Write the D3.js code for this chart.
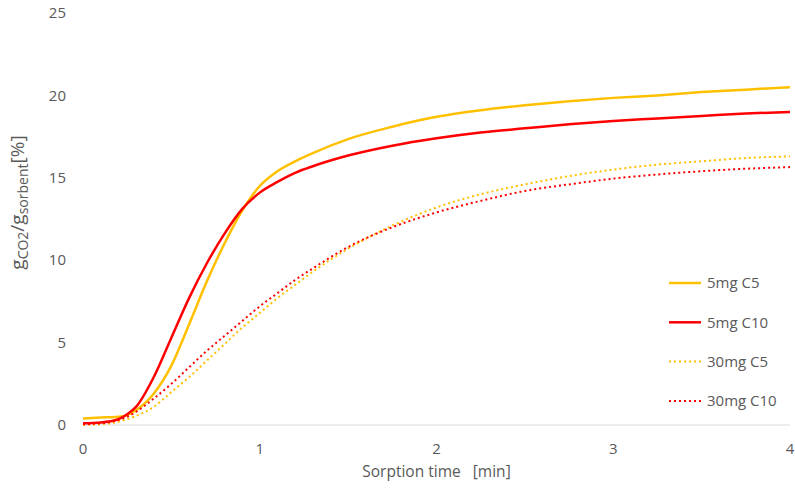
<!DOCTYPE html>
<html>
<head>
<meta charset="utf-8">
<script src="https://cdn.jsdelivr.net/npm/d3@7"></script>
<style>
  body { margin: 0; background: #fff; }
  text { font-family: "Open Sans", "Noto Sans", sans-serif; fill: #595959; }
</style>
</head>
<body>
<div id="chart"></div>
<script>
// Sorption time in minutes
const times = [0, 0.1, 0.2, 0.25, 0.3, 0.4, 0.5, 0.6, 0.7, 0.8, 0.9, 1.0, 1.1, 1.2, 1.3,
  1.5, 1.75, 2, 2.25, 2.5, 2.75, 3, 3.25, 3.5, 3.75, 4];
// Uptake g_CO2/g_sorbent [%] for each sample
const mg5C5 = [0.4, 0.45, 0.5, 0.6, 0.9, 1.9, 3.6, 6.1, 8.7, 11.0, 13.0, 14.5, 15.4, 16.0, 16.5,
  17.35, 18.1, 18.7, 19.1, 19.4, 19.65, 19.85, 20.0, 20.2, 20.35, 20.5];
const mg5C10 = [0.1, 0.15, 0.35, 0.65, 1.1, 2.9, 5.3, 7.7, 9.8, 11.6, 13.1, 14.1, 14.75, 15.3, 15.7,
  16.35, 16.95, 17.4, 17.75, 18.0, 18.25, 18.45, 18.6, 18.75, 18.9, 19.0];
const mg30C5 = [0.0, 0.05, 0.2, 0.35, 0.55, 1.1, 2.0, 2.9, 3.9, 4.9, 5.9, 6.8, 7.7, 8.5, 9.3,
  10.7, 12.1, 13.2, 14.0, 14.6, 15.1, 15.5, 15.8, 16.0, 16.2, 16.3];
const mg30C10 = [0.05, 0.1, 0.3, 0.5, 0.8, 1.6, 2.5, 3.5, 4.5, 5.4, 6.3, 7.2, 8.0, 8.8, 9.5,
  10.8, 12.0, 12.9, 13.6, 14.2, 14.6, 14.95, 15.2, 15.4, 15.55, 15.65];

const seriesNames = ['5mg C5', '5mg C10', '30mg C5', '30mg C10'];
const seriesValues = [mg5C5, mg5C10, mg30C5, mg30C10];
const seriesColors = ['#FFC000', '#FF0000', '#FFC000', '#FF0000'];
const seriesDotted = [false, false, true, true];

const xTicks = [0, 1, 2, 3, 4];
const yTicks = [0, 5, 10, 15, 20, 25];

// Chart size and margins
const width = 795, height = 488;
const margin = { top: 13, right: 5, bottom: 63, left: 83 };

const svg = d3.select('#chart').append('svg')
  .attr('width', width)
  .attr('height', height);

const x = d3.scaleLinear().domain([0, 4]).range([margin.left, width - margin.right]);
const y = d3.scaleLinear().domain([0, 25]).range([height - margin.bottom, margin.top]);

// Baseline axis line
svg.append('line')
  .attr('x1', x(0)).attr('x2', x(4))
  .attr('y1', y(0)).attr('y2', y(0))
  .attr('stroke', '#d9d9d9')
  .attr('stroke-width', 1);

// Y tick labels
svg.append('g')
  .selectAll('text')
  .data(yTicks)
  .join('text')
    .attr('x', 66)
    .attr('y', d => y(d))
    .attr('dy', '0.35em')
    .attr('text-anchor', 'end')
    .style('font-size', '15px')
    .text(d => d);

// X tick labels
svg.append('g')
  .selectAll('text')
  .data(xTicks)
  .join('text')
    .attr('x', d => x(d))
    .attr('y', y(0) + 29)
    .attr('text-anchor', 'middle')
    .style('font-size', '15px')
    .text(d => d);

// X axis title
svg.append('text')
  .attr('x', x(2))
  .attr('y', y(0) + 52)
  .attr('text-anchor', 'middle')
  .style('font-size', '15.5px')
  .attr('xml:space', 'preserve')
  .text('Sorption time   [min]');

// Y axis title with subscripts
const yTitle = svg.append('text')
  .attr('transform', `translate(24, ${y(13.5)}) rotate(-90)`)
  .attr('text-anchor', 'middle')
  .style('font-size', '19px');
yTitle.append('tspan').text('g');
yTitle.append('tspan').attr('dy', 4).style('font-size', '14px').text('CO2');
yTitle.append('tspan').attr('dy', -4).text('/g');
yTitle.append('tspan').attr('dy', 4).style('font-size', '14px').text('sorbent');
yTitle.append('tspan').attr('dy', -4).text('[%]');

// Lines
const line = d3.line()
  .x(d => x(d[0]))
  .y(d => y(d[1]))
  .curve(d3.curveMonotoneX);

svg.append('g')
  .selectAll('path')
  .data(seriesValues)
  .join('path')
    .attr('d', vals => line(times.map((t, i) => [t, vals[i]])))
    .attr('fill', 'none')
    .attr('stroke', (d, i) => seriesColors[i])
    .attr('stroke-width', (d, i) => seriesDotted[i] ? 2 : 2.5)
    .attr('stroke-dasharray', (d, i) => seriesDotted[i] ? '2,3' : null);

// Legend
const legend = svg.append('g').attr('transform', 'translate(669, 283)');
const rows = legend.selectAll('g')
  .data(seriesNames)
  .join('g')
    .attr('transform', (d, i) => `translate(0, ${i * 39.3})`);
rows.append('line')
  .attr('x1', 0).attr('x2', 32)
  .attr('stroke', (d, i) => seriesColors[i])
  .attr('stroke-width', (d, i) => seriesDotted[i] ? 2 : 2.5)
  .attr('stroke-dasharray', (d, i) => seriesDotted[i] ? '2,3' : null);
rows.append('text')
  .attr('x', 38)
  .attr('dy', '0.35em')
  .style('font-size', '15px')
  .text(d => d);
</script>
</body>
</html>
